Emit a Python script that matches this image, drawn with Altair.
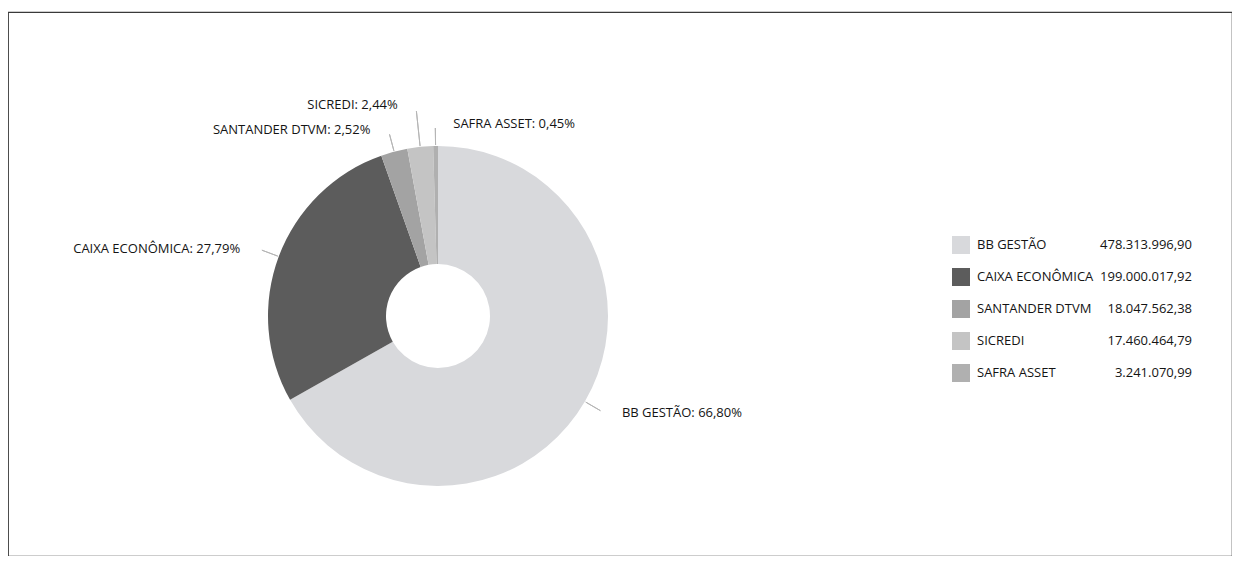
import altair as alt
import pandas as pd

# ---- data ----
names = ["BB GESTÃO", "CAIXA ECONÔMICA", "SANTANDER DTVM", "SICREDI", "SAFRA ASSET"]
values = [478313996.90, 199000017.92, 18047562.38, 17460464.79, 3241070.99]
colors = ["#d8d9dc", "#5c5c5c", "#a3a3a3", "#c4c4c4", "#b0b0b0"]


def br(v):
    s = f"{v:,.2f}"
    return s.replace(",", "#").replace(".", ",").replace("#", ".")


df = pd.DataFrame({
    "name": names,
    "value": values,
    "order": list(range(len(names))),
    "valtxt": [br(v) for v in values],
})

FONT = "Open Sans"
TXT = "#141414"
CX, CY = 430, 304          # pie centre inside the view
R_OUT, R_IN = 170, 52

color = alt.Color("name:N", scale=alt.Scale(domain=names, range=colors), legend=None)

pie = alt.Chart(df).mark_arc(radius=R_OUT, radius2=R_IN).encode(
    theta=alt.Theta("value:Q", stack=True),
    color=color,
    order=alt.Order("order:Q"),
    x=alt.value(CX), y=alt.value(CY),
)

base = alt.Chart(df).transform_joinaggregate(
    total="sum(value)"
).transform_window(
    cum="sum(value)", sort=[alt.SortField("order")], frame=[None, 0]
).transform_calculate(
    mid="datum.cum - datum.value/2",
    frac="(datum.cum - datum.value/2)/datum.total",
    label="datum.name + ': ' + replace(format(datum.value/datum.total, '.2%'), '.', ',')",
)

theta_mid = alt.Theta("mid:Q", stack=False)
pos = dict(x=alt.value(CX), y=alt.value(CY))

left_side = "datum.frac > 0.5 && datum.frac < 0.975"
crowded = "datum.frac >= 0.975 && datum.frac < 0.99"
right_side = "datum.frac <= 0.5 || datum.frac >= 0.99"

lines_main = base.transform_filter(f"!({crowded})").mark_arc(
    radius=188, radius2=R_OUT + 1, stroke="#b5b5b5", strokeWidth=1, fill=None
).encode(theta=theta_mid, theta2="mid:Q", **pos)

lines_crowd = base.transform_filter(crowded).mark_arc(
    radius=206, radius2=R_OUT + 1, stroke="#b5b5b5", strokeWidth=1, fill=None
).encode(theta=theta_mid, theta2="mid:Q", **pos)

txt_kw = dict(font=FONT, fontSize=13, color=TXT, baseline="middle")

lab_left = base.transform_filter(left_side).mark_text(
    radius=192, align="right", dx=-18, **txt_kw
).encode(theta=theta_mid, text="label:N", **pos)

lab_crowd = base.transform_filter(crowded).mark_text(
    radius=212, align="right", dx=-18, **txt_kw
).encode(theta=theta_mid, text="label:N", **pos)

lab_right = base.transform_filter(right_side).mark_text(
    radius=192, align="left", dx=18, **txt_kw
).encode(theta=theta_mid, text="label:N", **pos)

# ---- legend ----
ly = alt.Y("name:N", sort=names, axis=None,
           scale=alt.Scale(type="point", domain=names, range=[233, 361], padding=0))

leg_sq = alt.Chart(df).mark_square(size=324, opacity=1).encode(
    x=alt.value(953), y=ly, color=color,
)
leg_name = alt.Chart(df).mark_text(align="left", **txt_kw).encode(
    x=alt.value(969), y=ly, text="name:N",
)
leg_val = alt.Chart(df).mark_text(align="right", **txt_kw).encode(
    x=alt.value(1184), y=ly, text="valtxt:N",
)

chart = alt.layer(
    pie, lines_main, lines_crowd, lab_left, lab_crowd, lab_right, leg_sq, leg_name, leg_val
).properties(
    width=1224, height=544,
    autosize=alt.AutoSizeParams(type="none"),
    padding={"left": 0, "top": 4, "right": 0, "bottom": 0},
    background="white",
).configure_view(stroke="#3a3a3a", strokeWidth=1.2)

chart.save("out.html", embed_options={"renderer": "svg", "actions": False})
